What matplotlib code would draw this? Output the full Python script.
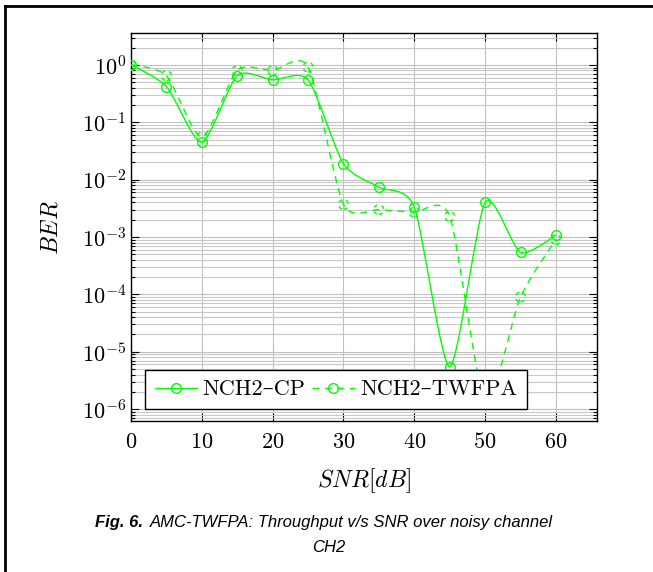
import matplotlib
matplotlib.use("Agg")
import matplotlib.pyplot as plt
import numpy as np
from matplotlib.path import Path
from matplotlib.patches import PathPatch
from matplotlib.lines import Line2D
from matplotlib.ticker import LogLocator, NullFormatter
from matplotlib.font_manager import FontProperties

plt.rcParams['font.family'] = ['cmr10', 'DejaVu Serif']
plt.rcParams['mathtext.fontset'] = 'cm'
plt.rcParams['axes.formatter.use_mathtext'] = True
plt.rcParams['axes.unicode_minus'] = False
plt.rcParams['lines.scale_dashes'] = False

# data
snr = [0, 5, 10, 15, 20, 25, 30, 35, 40, 45, 50, 55, 60]
ber_cp = [1.0, 0.42, 0.045, 0.65, 0.55, 0.55, 0.019, 0.0074, 0.0033, 5.5e-6, 0.004, 5.4e-4, 1.1e-3]
ber_twfpa = [1.0, 0.65, 0.055, 0.8, 0.8, 0.92, 0.0037, 0.003, 0.0027, 0.0023, 1.4e-6, 9e-5, 9e-4]

green = '#00ff00'
dash = (0, (5, 4))


def smooth_path(xs, ys, k=0.12):
    # tikz-like "smooth" curve, control points taken in log space
    x = np.array(xs, float)
    ly = np.log10(ys)
    verts = [(x[0], ys[0])]
    codes = [Path.MOVETO]
    n = len(x)
    for i in range(n - 1):
        i0 = max(i - 1, 0)
        i3 = min(i + 2, n - 1)
        if i == 0:
            c1x, c1y = x[i], ly[i]
        else:
            c1x = x[i] + k * (x[i + 1] - x[i0])
            c1y = ly[i] + k * (ly[i + 1] - ly[i0])
        if i + 1 == n - 1:
            c2x, c2y = x[i + 1], ly[i + 1]
        else:
            c2x = x[i + 1] - k * (x[i3] - x[i])
            c2y = ly[i + 1] - k * (ly[i3] - ly[i])
        verts += [(c1x, 10 ** c1y), (c2x, 10 ** c2y), (x[i + 1], ys[i + 1])]
        codes += [Path.CURVE4] * 3
    return Path(verts, codes)


fig = plt.figure(figsize=(6.53, 5.72), dpi=100)
ax = fig.add_axes([131 / 653, 151 / 572, 466 / 653, 388 / 572])
ax.set_yscale('log')

ax.add_patch(PathPatch(smooth_path(snr, ber_cp), fill=False, edgecolor=green, lw=1.0, zorder=3))
ax.add_patch(PathPatch(smooth_path(snr, ber_twfpa), fill=False, edgecolor=green, lw=1.0,
                       linestyle=dash, zorder=3))
ax.plot(snr, ber_cp, linestyle='none', marker='o', markersize=7, markerfacecolor='none',
        markeredgecolor=green, markeredgewidth=1.0, zorder=4)
ax.scatter(snr, ber_twfpa, s=49, facecolors='none', edgecolors=green, linewidths=1.0,
           linestyles=[(0, (3, 3))], zorder=4)

ax.set_xlim(0, 65.8)
ax.set_ylim(6.2e-7, 3.6)
ax.set_xticks([0, 10, 20, 30, 40, 50, 60])
ax.yaxis.set_major_locator(LogLocator(base=10, numticks=20))
ax.yaxis.set_minor_locator(LogLocator(base=10, subs=np.arange(2, 10), numticks=20))
ax.yaxis.set_minor_formatter(NullFormatter())

ax.grid(True, which='major', color='#c0c0c0', lw=0.8)
ax.grid(True, which='minor', axis='y', color='#c8c8c8', lw=0.8)
ax.set_axisbelow(True)

ax.tick_params(which='both', direction='in', top=True, right=True, labelsize=16, width=0.8)
ax.tick_params(which='major', length=6)
ax.tick_params(which='minor', length=3)
ax.tick_params(axis='x', pad=8)
for s in ax.spines.values():
    s.set_linewidth(1.0)

ax.set_xlabel('$SNR[dB]$', fontsize=17, labelpad=10)
ax.set_ylabel('$BER$', fontsize=17, labelpad=14)

h1 = Line2D([], [], color=green, lw=1.0, marker='o', markersize=7, markerfacecolor='none')
h2 = Line2D([], [], color=green, lw=1.0, linestyle=dash, marker='o', markersize=7,
            markerfacecolor='none')
leg = ax.legend([h1, h2], ['NCH2\u2013CP', 'NCH2\u2013TWFPA'], ncol=2, fontsize=16,
                loc='lower left', bbox_to_anchor=(0.03, 0.03), fancybox=False,
                framealpha=1, edgecolor='black', handlelength=1.9, columnspacing=0.3,
                handletextpad=0.25, borderpad=0.45, borderaxespad=0)
leg.get_frame().set_linewidth(1.0)

# caption, sized so the first line runs from x=95 to x=553 like the reference
cap_bold = 'Fig. 6.'
cap_rest = 'AMC-TWFPA: Throughput v/s SNR over noisy channel'
cap_y = 1 - 522 / 572
gap = 7
renderer = fig.canvas.get_renderer()
fp_bold = FontProperties(family='Liberation Sans', style='italic', weight='bold', size=15)
fp_rest = FontProperties(family='Liberation Sans', style='italic', size=15)
wb = renderer.get_text_width_height_descent(cap_bold, fp_bold, ismath=False)[0]
wr = renderer.get_text_width_height_descent(cap_rest, fp_rest, ismath=False)[0]
scale = 458 / (wb + gap + wr)
size = 15 * scale
fig.text(95 / 653, cap_y, cap_bold, fontsize=size, family='Liberation Sans',
         style='italic', weight='bold', ha='left', va='center')
fig.text((95 + wb * scale + gap) / 653, cap_y, cap_rest, fontsize=size,
         family='Liberation Sans', style='italic', ha='left', va='center')
fig.text(329 / 653, 1 - 547 / 572, 'CH2', fontsize=size, family='Liberation Sans',
         style='italic', ha='center', va='center')

# page frame (top and left edges)
fig.add_artist(Line2D([5 / 653, 1], [1 - 6 / 572, 1 - 6 / 572], color='black', lw=2.0))
fig.add_artist(Line2D([5 / 653, 5 / 653], [0, 1 - 6 / 572], color='black', lw=2.0))

fig.savefig('out.png', dpi=100)
